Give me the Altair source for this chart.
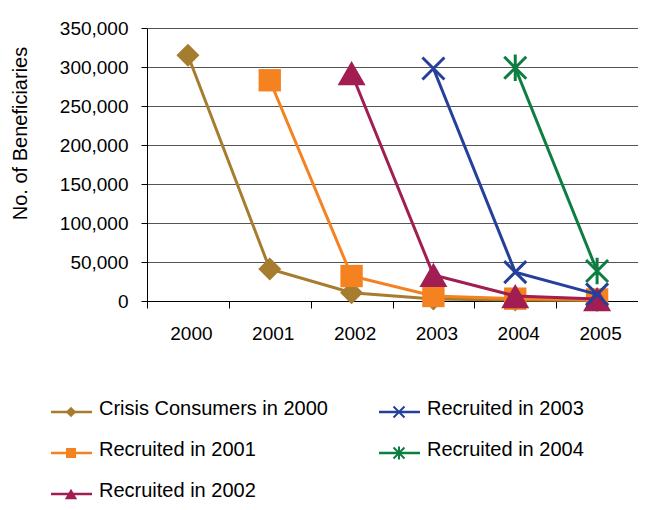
import altair as alt
import pandas as pd

years = ["2000", "2001", "2002", "2003", "2004", "2005"]
series_names = [
    "Crisis Consumers in 2000",
    "Recruited in 2001",
    "Recruited in 2002",
    "Recruited in 2003",
    "Recruited in 2004",
]
crisis_2000 = [315000, 41000, 10600, 2500, 1200, 600]
rec_2001 = [None, 283000, 32000, 6400, 3000, 2000]
rec_2002 = [None, None, 292000, 33500, 6400, 2500]
rec_2003 = [None, None, None, 298000, 37000, 8500]
rec_2004 = [None, None, None, None, 299000, 38500]
all_values = [crisis_2000, rec_2001, rec_2002, rec_2003, rec_2004]

colors = ["#A67C2E", "#F58220", "#A11D52", "#24409A", "#0C7E42"]
shapes = [
    "diamond",
    "square",
    "triangle-up",
    "M-1,-1L1,1M1,-1L-1,1",
    "M-1,-1L1,1M1,-1L-1,1M0,-1.2L0,1.2",
]
marker_filled = [True, True, True, False, False]
marker_size = [529, 500, 784, 484, 484]
legend_size = [110, 100, 150, 121, 121]
legend_col = [0, 0, 0, 1, 1]
legend_row = [0, 1, 2, 0, 1]

rows = []
for name, vals in zip(series_names, all_values):
    for yr, v in zip(years, vals):
        if v is not None:
            rows.append({"series": name, "year": yr, "value": v})
df = pd.DataFrame(rows)
leg_df = pd.DataFrame({"series": series_names, "col": legend_col, "row": legend_row})

FONT = "Liberation Sans"
PAD_L, PAD_T = 139, 20
W, H = 491, 273
color_scale = alt.Scale(domain=series_names, range=colors)
shape_scale = alt.Scale(domain=series_names, range=shapes)

x_enc = alt.X(
    "year:N",
    scale=alt.Scale(type="band", domain=years, paddingInner=0, paddingOuter=0),
    axis=alt.Axis(
        title=None,
        labelAngle=0,
        tickBand="extent",
        tickSize=7,
        tickColor="black",
        domainColor="black",
        labelColor="black",
        labelFontSize=19,
        labelPadding=16,
        labelOffset=3,
        grid=False,
    ),
)
y_enc = alt.Y(
    "value:Q",
    scale=alt.Scale(domain=[0, 350000], nice=False),
    axis=alt.Axis(
        values=list(range(0, 350001, 50000)),
        format=",d",
        title="No. of Beneficiaries",
        titleFontSize=20,
        titleFontWeight="normal",
        titleColor="black",
        titleX=-127,
        titleY=105,
        titleAlign="center",
        titleBaseline="middle",
        labelFontSize=19,
        labelColor="black",
        labelPadding=13,
        tickSize=6,
        tickColor="black",
        domainColor="black",
        gridColor="#555555",
        gridWidth=1,
    ),
)
color_enc = alt.Color("series:N", scale=color_scale, legend=None)
shape_enc = alt.Shape("series:N", scale=shape_scale, legend=None)

layers = []
for i, name in enumerate(series_names):
    base = alt.Chart(df).transform_filter(alt.datum.series == name)
    line = base.mark_line(strokeWidth=3).encode(x=x_enc, y=y_enc, color=color_enc)
    if marker_filled[i]:
        pt = base.mark_point(filled=True, opacity=1, size=marker_size[i])
    else:
        pt = base.mark_point(filled=False, opacity=1, strokeWidth=3, size=marker_size[i])
    pt = pt.encode(x=x_enc, y=y_enc, color=color_enc, shape=shape_enc)
    layers += [line, pt]

# legend below the plot, drawn with its own scales (pixel ranges relative to plot origin)
lx = alt.X("col:Q", scale=alt.Scale(domain=[0, 1], range=[-76, 252], zero=False), axis=None)
lx2 = alt.X2("col")
ly = alt.Y("row:Q", scale=alt.Scale(domain=[0, 2], range=[384, 466], zero=False), axis=None)

leg_layers = []
for i, name in enumerate(series_names):
    b = alt.Chart(leg_df).transform_filter(alt.datum.series == name)
    rule = b.mark_rule(strokeWidth=2.5, xOffset=-20, x2Offset=21).encode(
        x=lx, x2=lx2, y=ly, color=color_enc
    )
    if marker_filled[i]:
        p = b.mark_point(filled=True, opacity=1, size=legend_size[i])
    else:
        p = b.mark_point(filled=False, opacity=1, strokeWidth=2, size=legend_size[i])
    p = p.encode(x=lx, y=ly, color=color_enc, shape=shape_enc)
    leg_layers += [rule, p]

txt = alt.Chart(leg_df).mark_text(
    align="left", baseline="middle", dx=28, dy=-3, fontSize=20, font=FONT, color="black"
).encode(x=lx, y=ly, text="series:N")
leg_layers.append(txt)

main = alt.layer(*layers)
legend = alt.layer(*leg_layers)

chart = (
    alt.layer(main, legend)
    .resolve_scale(x="independent", y="independent")
    .properties(
        width=W,
        height=H,
        autosize=alt.AutoSizeParams(type="none"),
        padding={"left": PAD_L, "top": PAD_T, "right": 0, "bottom": 199},
    )
    .configure(font=FONT)
    .configure_view(stroke=None)
    .configure_axis(labelFont=FONT, titleFont=FONT)
)

chart.save("out.html", embed_options={"renderer": "svg", "actions": False})
